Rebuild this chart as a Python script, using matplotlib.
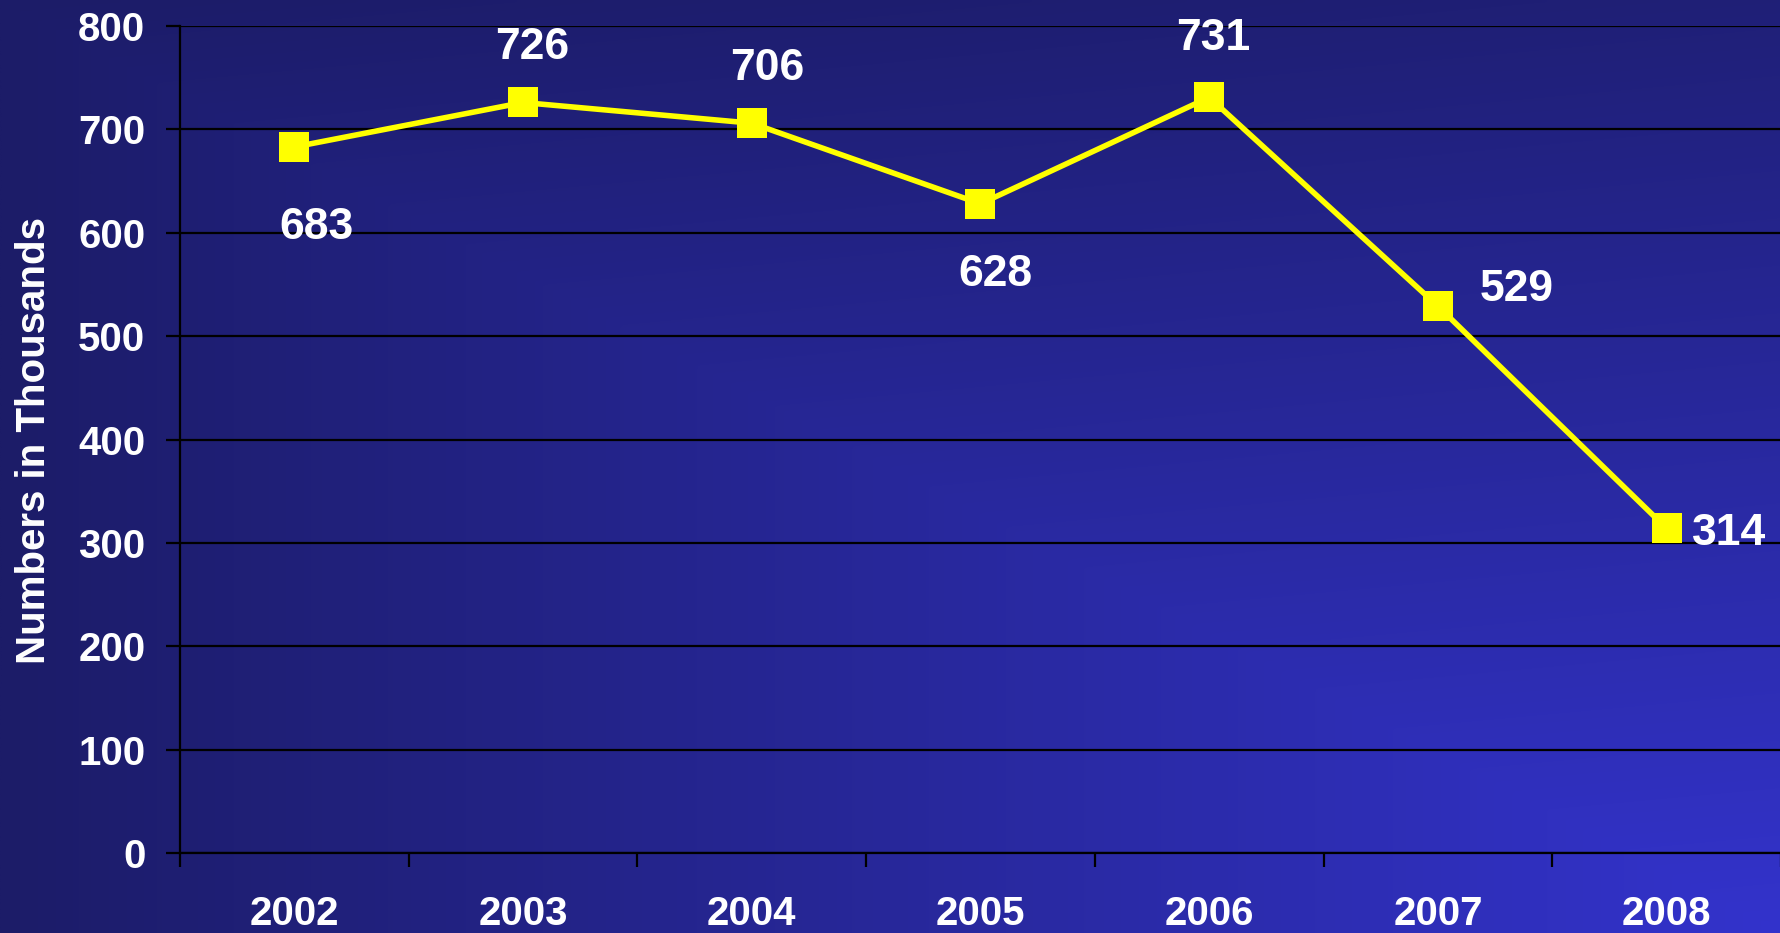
import numpy as np
import matplotlib
matplotlib.use("Agg")
import matplotlib.pyplot as plt
from matplotlib.ticker import FixedLocator, NullFormatter

plt.rcParams['font.family'] = ['Liberation Sans', 'DejaVu Sans']
plt.rcParams['font.weight'] = 'bold'

years = ['2002', '2003', '2004', '2005', '2006', '2007', '2008']
counts = [683, 726, 706, 628, 731, 529, 314]
# label offsets (pixels) from each point
label_dx = [22, 9, 15, 15, 4, 79, 62]
label_dy = [-76, 59, 59, -66, 63, 21, -1]

W, H = 1781, 933
fig = plt.figure(figsize=(W / 100, H / 100), dpi=100)

# corner gradient background: dark navy top/left, bright blue bottom-right
xs = np.linspace(0, 1, 400)
ys = np.linspace(0, 1, 200)
X, Y = np.meshgrid(xs, ys)
t = 0.85 * np.minimum(X, Y) + 0.15 * X
dark = np.array([28, 28, 104]) / 255
bright = np.array([51, 51, 204]) / 255
grad = dark[None, None, :] + t[..., None] * (bright - dark)[None, None, :]
bg = fig.add_axes([0, 0, 1, 1], zorder=-1)
bg.imshow(grad, aspect='auto', extent=[0, 1, 0, 1], origin='upper', interpolation='bilinear')
bg.axis('off')

ax = fig.add_axes([180 / W, 1 - 853 / H, 1 - 180 / W, (853 - 26) / H])
ax.set_facecolor('none')

x = np.arange(len(years))
ax.plot(x, counts, color='#ffff00', lw=4, marker='s', markersize=21,
        markeredgewidth=0, zorder=5, clip_on=False)

for xi, v, dx, dy in zip(x, counts, label_dx, label_dy):
    ax.annotate(str(v), (xi, v), xytext=(dx, dy), textcoords='offset pixels',
                ha='center', va='center_baseline', color='white',
                fontsize=32, fontweight='bold', zorder=6)

ax.set_xlim(-0.5, len(years) - 0.5)
ax.set_ylim(0, 800)
ax.set_yticks(np.arange(0, 801, 100))
ax.yaxis.grid(True, color='black', lw=1.6)
ax.set_axisbelow(True)

ax.set_xticks(x)
ax.set_xticklabels(years)
ax.xaxis.set_minor_locator(FixedLocator(np.arange(-0.5, len(years), 1.0)))
ax.xaxis.set_minor_formatter(NullFormatter())
ax.tick_params(axis='x', which='major', length=0, pad=30, labelsize=29, labelcolor='white')
ax.tick_params(axis='x', which='minor', length=10, width=1.6, color='black', direction='out')
ax.tick_params(axis='y', length=10, width=1.6, color='black', direction='out',
               pad=15, labelsize=29, labelcolor='white')

for s in ['top', 'right']:
    ax.spines[s].set_visible(False)
for s in ['left', 'bottom']:
    ax.spines[s].set_color('black')
    ax.spines[s].set_linewidth(1.6)

fig.text(34 / W, 1 - 441 / H, 'Numbers in Thousands', rotation=90, ha='center', va='center',
         color='white', fontsize=29, fontweight='bold')

fig.savefig('out.png', dpi=100)
